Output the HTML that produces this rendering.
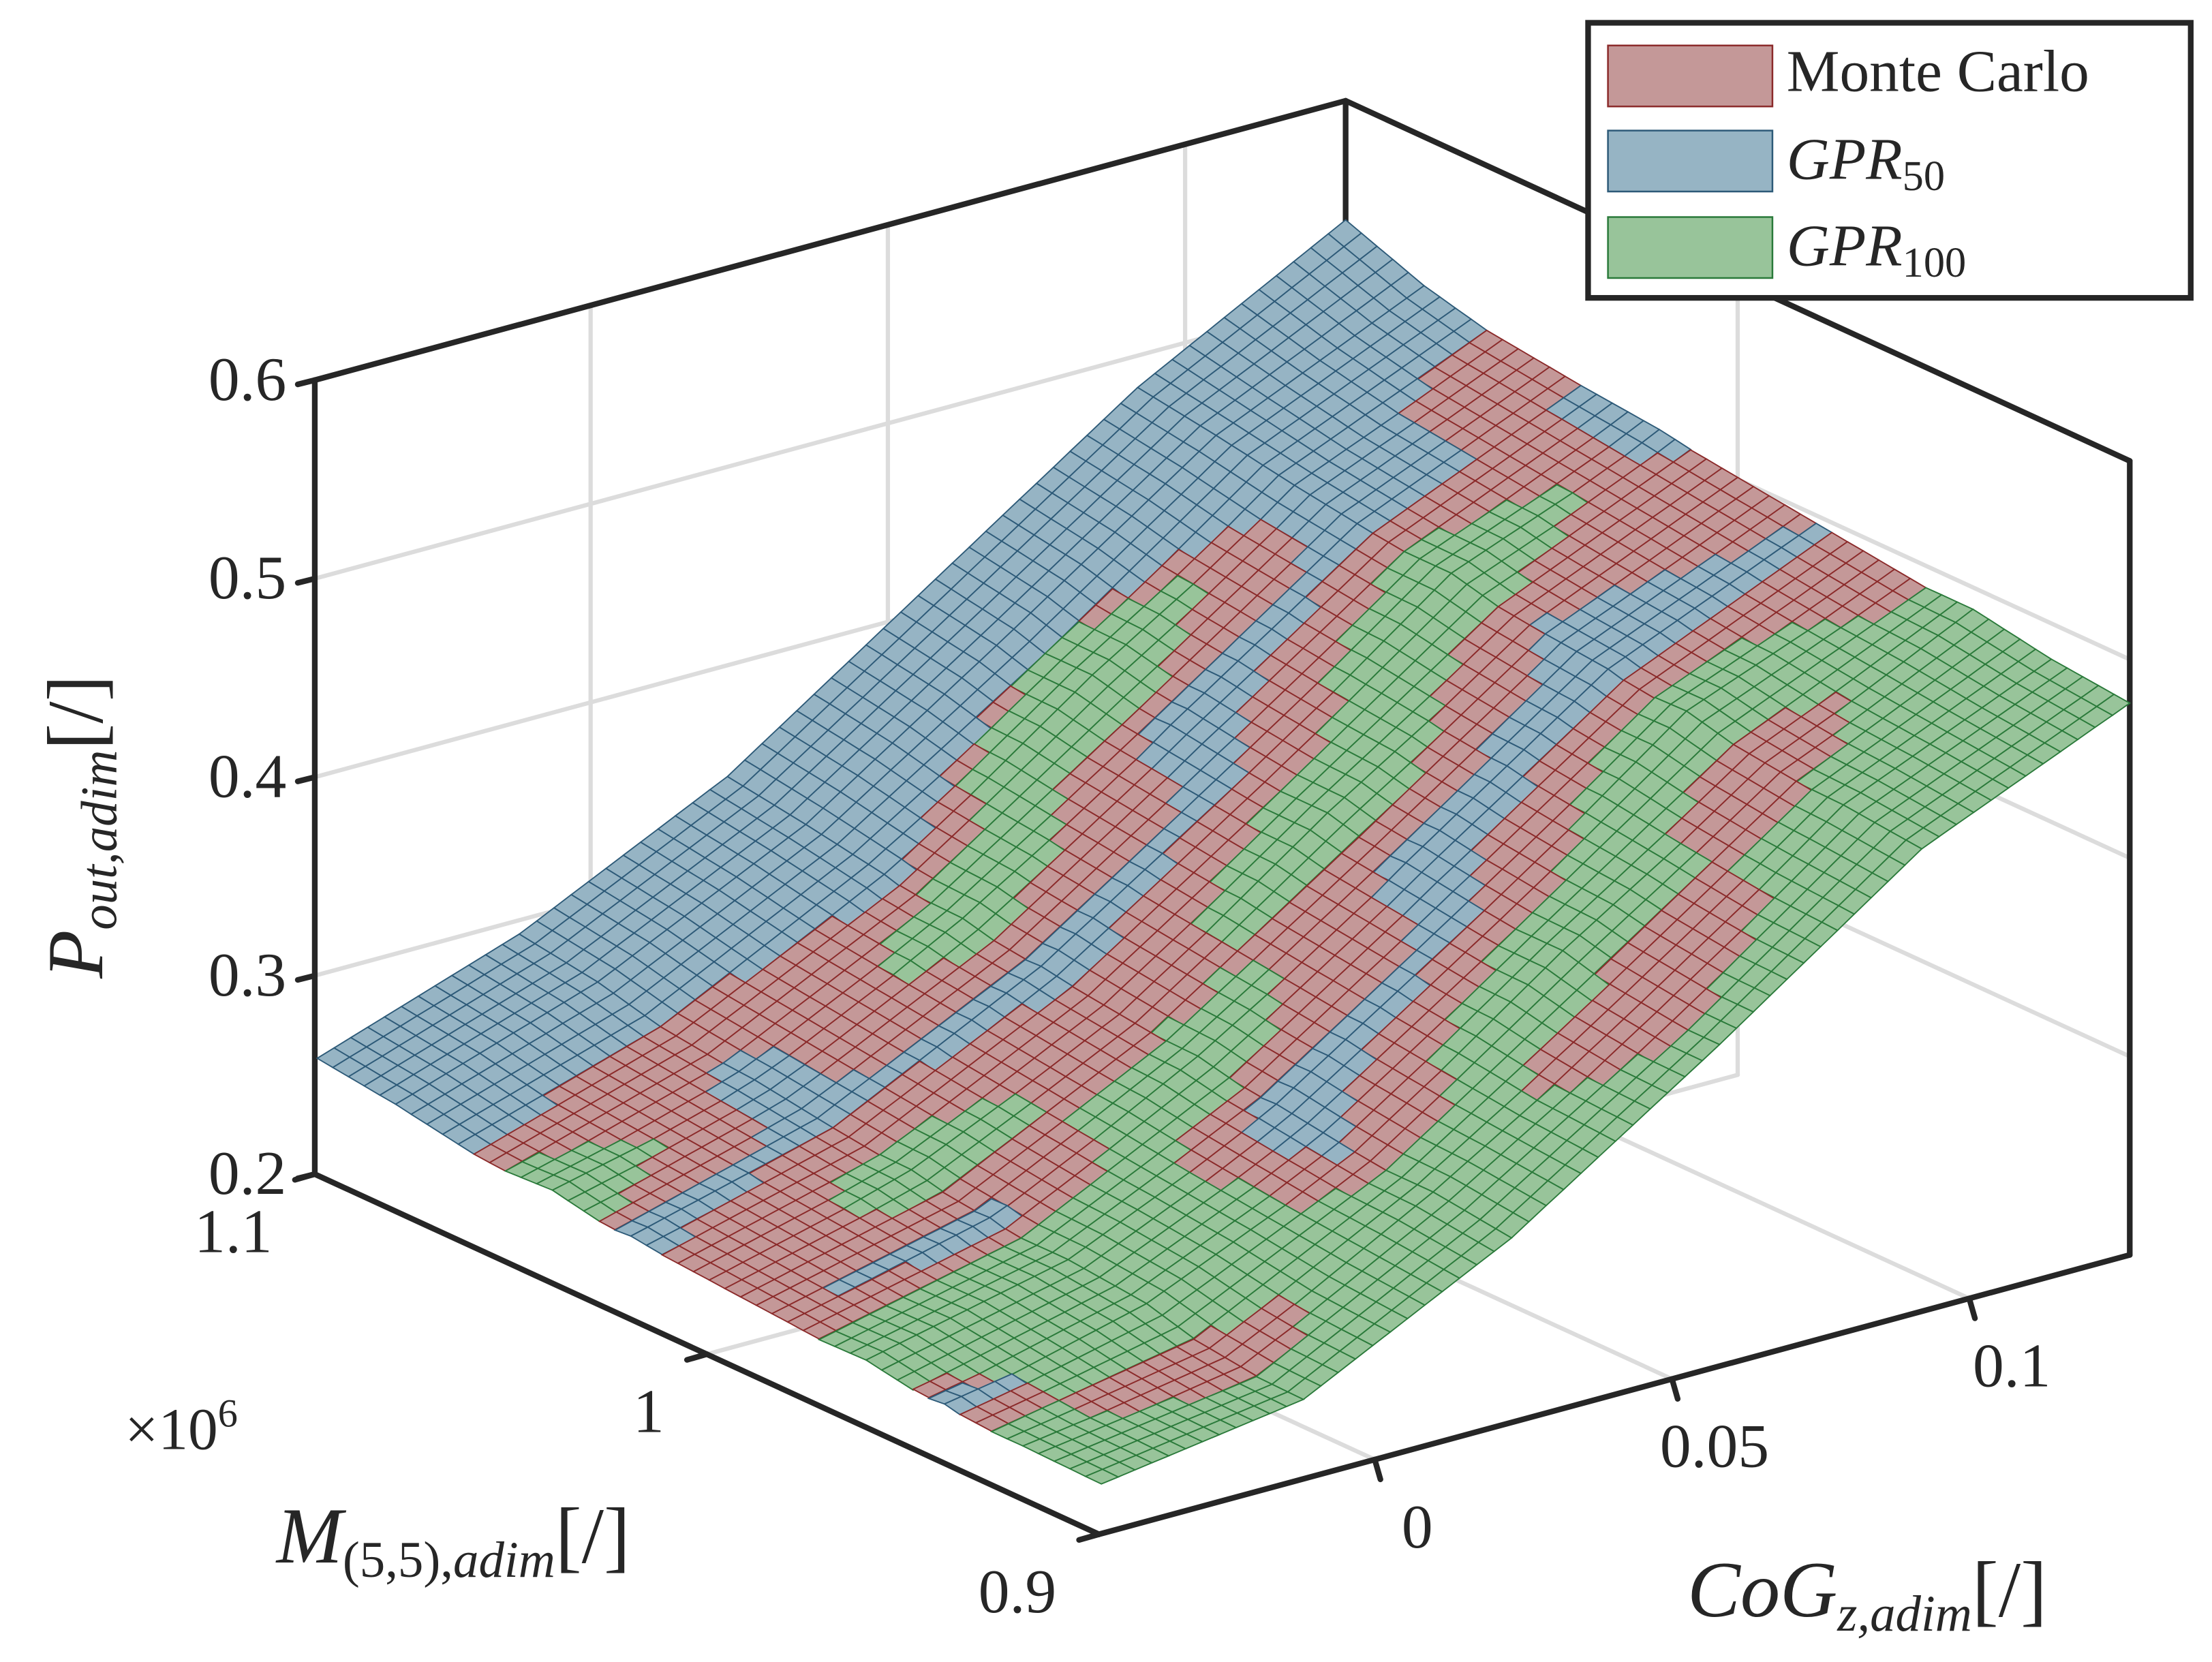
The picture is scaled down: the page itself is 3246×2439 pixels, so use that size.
<!DOCTYPE html>
<html><head><meta charset="utf-8"><style>
html,body{margin:0;padding:0;background:#fff;}
svg{display:block;}
text{font-family:"Liberation Serif",serif;fill:#262626;}
</style></head><body>
<svg id="chart" width="3246" height="2439" viewBox="0 0 1560 1172" xmlns="http://www.w3.org/2000/svg">
<g id="grid"></g>
<g id="box"></g>
<g id="surf"></g>
<g id="labels"></g>
<g>
<rect x="1120" y="16" width="425" height="194" fill="#fff" stroke="#262626" stroke-width="4"/>
<rect x="1134" y="32" width="116" height="43" fill="#c49898" stroke="#8b2a2a" stroke-width="1.2"/>
<text x="1260" y="64" font-size="42">Monte Carlo</text>
<rect x="1134" y="92" width="116" height="43" fill="#96b4c4" stroke="#2d5a78" stroke-width="1.2"/>
<text x="1260" y="126" font-size="42" font-style="italic">GPR<tspan font-size="30" font-style="normal" dy="8">50</tspan></text>
<rect x="1134" y="153" width="116" height="43" fill="#98c49a" stroke="#2a7a3a" stroke-width="1.2"/>
<text x="1260" y="187" font-size="42" font-style="italic">GPR<tspan font-size="30" font-style="normal" dy="8">100</tspan></text>
</g>
</svg>
<script>
// ---- data ----
const mVals = [0.9,0.92,0.94,0.96,0.98,1.0,1.02,1.04,1.06,1.08,1.1];
const cogVals = [-0.046,-0.012,0.023,0.058,0.092,0.127];
const zMC = [
 [.222,.238,.290,.360,.430,.476],
 [.225,.243,.295,.365,.435,.481],
 [.228,.248,.300,.370,.440,.486],
 [.231,.253,.305,.375,.445,.491],
 [.234,.258,.310,.380,.450,.496],
 [.237,.263,.315,.385,.455,.501],
 [.240,.268,.320,.390,.460,.506],
 [.243,.273,.325,.395,.465,.511],
 [.246,.278,.330,.400,.470,.516],
 [.249,.283,.335,.405,.475,.521],
 [.252,.288,.340,.410,.480,.526]];
const zGPR50 = [
 [.221,.232,.283,.354,.423,.471],
 [.220,.243,.290,.364,.429,.474],
 [.229,.247,.300,.365,.440,.481],
 [.225,.248,.306,.375,.440,.491],
 [.234,.259,.304,.381,.451,.496],
 [.236,.257,.314,.380,.455,.500],
 [.241,.268,.321,.390,.455,.507],
 [.238,.274,.319,.396,.465,.511],
 [.246,.277,.331,.395,.471,.515],
 [.253,.287,.338,.408,.478,.525],
 [.258,.293,.344,.415,.484,.540]];
const zGPR100 = [
 [.225,.240,.293,.362,.433,.478],
 [.226,.241,.298,.362,.437,.482],
 [.226,.252,.298,.373,.438,.489],
 [.233,.256,.303,.373,.448,.489],
 [.232,.256,.312,.377,.447,.494],
 [.234,.265,.313,.388,.453,.498],
 [.238,.266,.317,.388,.463,.504],
 [.246,.270,.327,.393,.463,.508],
 [.244,.275,.328,.403,.467,.513],
 [.247,.281,.333,.403,.473,.518],
 [.249,.285,.337,.407,.477,.523]];
const zTicks = [0.2,0.3,0.4,0.5,0.6];
const zTickLabels = ["0.2","0.3","0.4","0.5","0.6"];
const mTicks = [0.9,1.0,1.1];
const mTickLabels = ["0.9","1","1.1"];
const cTicks = [0,0.05,0.1];
const cTickLabels = ["0","0.05","0.1"];
// ---- projection ----
const M0=0.9,M1=1.1,C0=-0.0464,C1=0.127,Z0=0.2,Z1=0.6;
const F=[775,1082],L=[222,828],R=[1502,885],ZH=560;
function P(m,c,z){const a=(m-M0)/(M1-M0),b=(c-C0)/(C1-C0),h=(z-Z0)/(Z1-Z0);
 return [F[0]+a*(L[0]-F[0])+b*(R[0]-F[0]), F[1]+a*(L[1]-F[1])+b*(R[1]-F[1])-h*ZH];}
const NS="http://www.w3.org/2000/svg";
function el(t,attrs,parent){const e=document.createElementNS(NS,t);for(const k in attrs)e.setAttribute(k,attrs[k]);parent.appendChild(e);return e;}
function line(p,q,s,w,g){return el('line',{x1:p[0],y1:p[1],x2:q[0],y2:q[1],stroke:s,'stroke-width':w,'stroke-linecap':'round'},g);}
const grid=document.getElementById('grid'),box=document.getElementById('box'),surf=document.getElementById('surf'),lab=document.getElementById('labels');
const gc='#dcdcdc';
zTicks.slice(1,-1).forEach(z=>{line(P(M1,C0,z),P(M1,C1,z),gc,3,grid);line(P(M1,C1,z),P(M0,C1,z),gc,3,grid);});
mTicks.slice(1,-1).forEach(m=>{line(P(m,C0,Z0),P(m,C1,Z0),gc,3,grid);line(P(m,C1,Z0),P(m,C1,Z1),gc,3,grid);});
cTicks.forEach(c=>{line(P(M0,c,Z0),P(M1,c,Z0),gc,3,grid);line(P(M1,c,Z0),P(M1,c,Z1),gc,3,grid);});
const bc='#262626';
line(P(M1,C0,Z0),P(M1,C0,Z1),bc,4,box);
line(P(M1,C0,Z1),P(M1,C1,Z1),bc,4,box);
line(P(M1,C1,Z1),P(M0,C1,Z1),bc,4,box);
line(P(M0,C1,Z0),P(M0,C1,Z1),bc,4,box);
line(P(M1,C1,Z0),P(M1,C1,Z1),bc,4,box);
line(P(M1,C0,Z0),P(M0,C0,Z0),bc,4,box);
line(P(M0,C0,Z0),P(M0,C1,Z0),bc,4,box);
zTicks.forEach((z,i)=>{const p=P(M1,C0,z);line(p,[p[0]-12,p[1]+3],bc,4,box);
 const t=el('text',{x:p[0]-20,y:p[1]+14,'font-size':44,'text-anchor':'end'},lab);t.textContent=zTickLabels[i];
 });
mTicks.forEach((m,i)=>{const p=P(m,C0,Z0);line(p,[p[0]-14,p[1]+4],bc,4,box);
 const t=el('text',{x:p[0]-30,y:p[1]+55,'font-size':44,'text-anchor':'end'},lab);t.textContent=mTickLabels[i];
 });
cTicks.forEach((c,i)=>{const p=P(M0,c,Z0);line(p,[p[0]+4,p[1]+14],bc,4,box);
 const t=el('text',{x:p[0]+30,y:p[1]+62,'font-size':44,'text-anchor':'middle'},lab);t.textContent=cTickLabels[i];
 });
// surfaces
const series=[{z:zMC,f:'#c49898',s:'#8b2a2a'},{z:zGPR50,f:'#96b4c4',s:'#2d5a78'},{z:zGPR100,f:'#98c49a',s:'#2a7a3a'}];
const SUBM=5,SUBC=12,nM=mVals.length,nC=cogVals.length;
function interp(Z,u,v){const i=Math.min(Math.floor(u),nM-2),j=Math.min(Math.floor(v),nC-2),a=u-i,b=v-j;
 return Z[i][j]*(1-a)*(1-b)+Z[i+1][j]*a*(1-b)+Z[i][j+1]*(1-a)*b+Z[i+1][j+1]*a*b;}
function val(arr,u){const i=Math.min(Math.floor(u),arr.length-2),a=u-i;return arr[i]*(1-a)+arr[i+1]*a;}
const NU=(nM-1)*SUBM,NV=(nC-1)*SUBC,cells=[];
for(let iu=0;iu<NU;iu++)for(let iv=0;iv<NV;iv++)cells.push([iu,iv]);
cells.sort((a,b)=>(b[0]/NU+b[1]/NV)-(a[0]/NU+a[1]/NV));
cells.forEach(([iu,iv])=>{
 const uc=(iu+0.5)/SUBM,vc=(iv+0.5)/SUBC;let best=0,bz=-1;
 series.forEach((s,k)=>{const z=interp(s.z,uc,vc);if(z>bz){bz=z;best=k;}});
 const s=series[best];
 const pts=[[iu,iv],[iu+1,iv],[iu+1,iv+1],[iu,iv+1]].map(([a,b])=>{const u=a/SUBM,v=b/SUBC;
  return P(val(mVals,u),val(cogVals,v),interp(s.z,u,v));});
 const poly=el('polygon',{points:pts.map(p=>p[0].toFixed(1)+','+p[1].toFixed(1)).join(' '),fill:s.f,stroke:s.s,'stroke-width':0.9},surf);
 
 
});
function T(x,y,html,attrs,name){const t=document.createElementNS(NS,'text');t.setAttribute('x',x);t.setAttribute('y',y);for(const k in attrs)t.setAttribute(k,attrs[k]);t.innerHTML=html;lab.appendChild(t);
 
 }
T(72,690,'<tspan font-style="italic">P</tspan><tspan font-size="36" font-style="italic" dy="10">out,adim</tspan><tspan dy="-10">[/]</tspan>',{'font-size':56,transform:'rotate(-90 72 690)'},'z-axis-title');
T(195,1102,'<tspan font-style="italic">M</tspan><tspan font-size="36" dy="10"><tspan>(5,5),</tspan><tspan font-style="italic">adim</tspan></tspan><tspan dy="-10">[/]</tspan>',{'font-size':56},'m-axis-title');
T(1190,1140,'<tspan font-style="italic">CoG</tspan><tspan font-size="36" font-style="italic" dy="10">z,adim</tspan><tspan dy="-10">[/]</tspan>',{'font-size':56},'cog-axis-title');
T(88,1022,'×10<tspan font-size="28" dy="-16">6</tspan>',{'font-size':42},'m-axis-exponent');
</script>
</body></html>
